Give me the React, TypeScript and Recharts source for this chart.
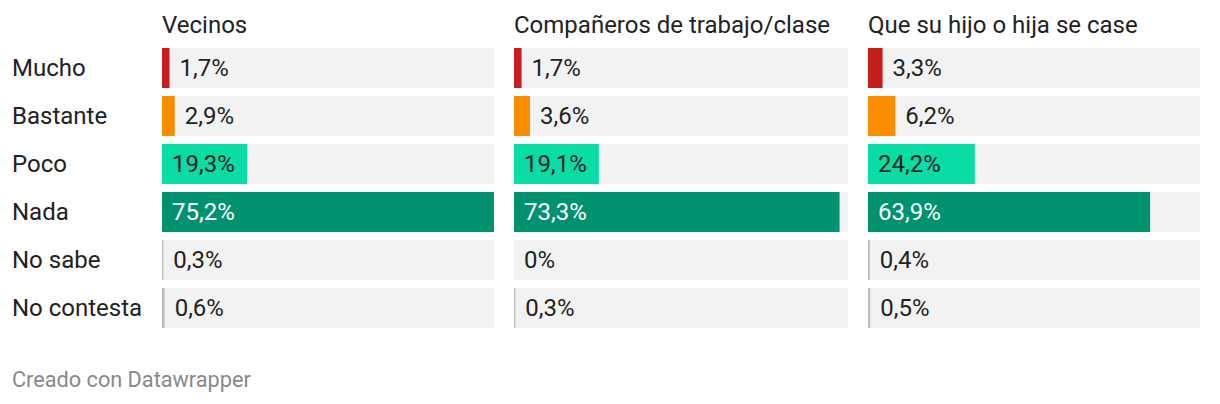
import { Bar, BarChart, Cell, XAxis, YAxis } from "recharts";

const categories = ["Mucho", "Bastante", "Poco", "Nada", "No sabe", "No contesta"];
const panelTitles = ["Vecinos", "Compañeros de trabajo/clase", "Que su hijo o hija se case"];
const vecinos = [1.7, 2.9, 19.3, 75.2, 0.3, 0.6];
const companeros = [1.7, 3.6, 19.1, 73.3, 0, 0.3];
const hijo = [3.3, 6.2, 24.2, 63.9, 0.4, 0.5];

const colors = ["#c71e1d", "#fa8c00", "#09dca4", "#00916e", "#bdbdbd", "#bdbdbd"];
const series = [vecinos, companeros, hijo];
const maxValue = Math.max(...series.flat());

const FONT = "Roboto, 'Noto Sans', sans-serif";
const TEXT = "#222";

const fmt = (v: number) => `${String(v).replace(".", ",")}%`;

// label sits on the grey track bar (always drawn, even for 0%)
const makeLabel = (values: number[]) => (props: any) => {
    const { x, y, width, height, index } = props;
    const v = values[index];
    const barW = (width * v) / maxValue;
    const inside = barW > 70;
    return (
        <text
            x={inside ? x + 10 : x + barW + 10}
            y={y + height / 2}
            dy="0.35em"
            fontSize={24}
            fontFamily={FONT}
            fill={inside && index === 3 ? "#fff" : TEXT}
        >
            {fmt(v)}
        </text>
    );
};

const CategoryTick = (props: any) => {
    const { y, payload } = props;
    return (
        <text x={4} y={y} dy="0.35em" fontSize={24} fontFamily={FONT} fill={TEXT}>
            {payload.value}
        </text>
    );
};

const panels = [
    { left: 0, width: 486, axis: true, titleLeft: 154 },
    { left: 506, width: 334, axis: false, titleLeft: 506 },
    { left: 860, width: 332, axis: false, titleLeft: 860 },
];

export default function App() {
    return (
        <div style={{ position: "relative", width: 1204, height: 388, fontFamily: FONT, color: TEXT }}>
            {panels.map((p, i) => {
                const data = categories.map((cat, j) => ({ cat, track: maxValue, value: series[i][j] }));
                return (
                    <div key={i}>
                        <div style={{ position: "absolute", left: p.titleLeft, top: 3, fontSize: 24, lineHeight: "28px" }}>
                            {panelTitles[i]}
                        </div>
                        <div style={{ position: "absolute", left: p.left, top: 0 }}>
                            <BarChart
                                width={p.width}
                                height={324}
                                data={data}
                                layout="vertical"
                                margin={{ top: 36, right: 0, left: 0, bottom: 0 }}
                                barCategoryGap={4}
                                barGap={-40}
                            >
                                <XAxis type="number" hide domain={[0, maxValue]} />
                                <YAxis
                                    type="category"
                                    dataKey="cat"
                                    hide={!p.axis}
                                    width={p.axis ? 154 : 0}
                                    axisLine={false}
                                    tickLine={false}
                                    tick={<CategoryTick />}
                                    interval={0}
                                />
                                <Bar dataKey="track" barSize={40} fill="#f2f2f2" isAnimationActive={false} />
                                <Bar dataKey="value" barSize={40} isAnimationActive={false}>
                                    {data.map((_, j) => (
                                        <Cell key={j} fill={colors[j]} />
                                    ))}
                                </Bar>
                                <Bar
                                    dataKey="track"
                                    barSize={40}
                                    fill="none"
                                    label={makeLabel(series[i])}
                                    isAnimationActive={false}
                                />
                            </BarChart>
                        </div>
                    </div>
                );
            })}
            <div style={{ position: "absolute", left: 4, top: 359, fontSize: 21.7, color: "#888" }}>
                Creado con Datawrapper
            </div>
        </div>
    );
}
